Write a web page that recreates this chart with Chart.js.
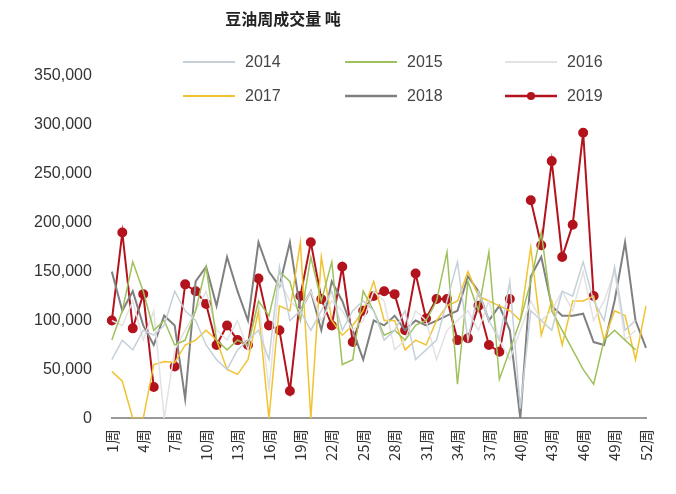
<!DOCTYPE html><html><head><meta charset="utf-8">
<script src="https://cdn.jsdelivr.net/npm/chart.js@4"></script>
<style>body{margin:0;background:#fff}#w{width:676px;height:494px}</style></head><body><div id="w"><canvas id="c"></canvas></div>
<script>
const weeks=Array.from({length:52},(_,i)=>(i+1)+'周');
const s2014=[60e3,80e3,70e3,90e3,85e3,95e3,130e3,110e3,100e3,75e3,60e3,50e3,70e3,80e3,90e3,60e3,155e3,100e3,110e3,90e3,110e3,130e3,90e3,110e3,120e3,110e3,80e3,90e3,110e3,60e3,70e3,80e3,120e3,160e3,80e3,130e3,100e3,80e3,140e3,10e3,110e3,100e3,90e3,130e3,125e3,160e3,120e3,100e3,155e3,90e3,100e3,null];
const s2015=[80e3,110e3,160e3,130e3,90e3,100e3,75e3,80e3,110e3,155e3,80e3,70e3,80e3,75e3,120e3,105e3,150e3,140e3,100e3,165e3,120e3,160e3,55e3,60e3,130e3,110e3,85e3,90e3,80e3,95e3,100e3,120e3,170e3,35e3,140e3,110e3,170e3,40e3,70e3,100e3,140e3,190e3,110e3,90e3,70e3,50e3,35e3,80e3,90e3,80e3,70e3,null];
const s2016=[100e3,95e3,120e3,80e3,110e3,0,70e3,90e3,110e3,130e3,90e3,80e3,100e3,70e3,120e3,30e3,140e3,120e3,110e3,130e3,100e3,120e3,110e3,90e3,100e3,130e3,120e3,70e3,80e3,110e3,100e3,60e3,90e3,100e3,110e3,90e3,120e3,80e3,60e3,90e3,120e3,100e3,110e3,130e3,110e3,150e3,100e3,120e3,150e3,80e3,90e3,null];
const s2017=[48e3,38e3,0,0,55e3,58e3,57e3,75e3,80e3,90e3,80e3,50e3,45e3,60e3,110e3,0,115e3,110e3,180e3,0,165e3,100e3,85e3,95e3,110e3,140e3,100e3,100e3,70e3,80e3,75e3,100e3,115e3,120e3,150e3,125e3,120e3,115e3,110e3,100e3,175e3,85e3,120e3,75e3,120e3,120e3,125e3,80e3,110e3,105e3,60e3,115e3];
const s2018=[150e3,110e3,130e3,95e3,75e3,105e3,95e3,20e3,140e3,155e3,115e3,165e3,130e3,100e3,180e3,150e3,135e3,180e3,110e3,130e3,90e3,140e3,120e3,90e3,60e3,100e3,95e3,105e3,90e3,100e3,95e3,100e3,105e3,110e3,145e3,130e3,100e3,115e3,90e3,0,145e3,165e3,115e3,105e3,105e3,107e3,78e3,75e3,120e3,180e3,100e3,72e3];
const s2019=[100e3,190e3,92e3,127e3,32e3,null,53e3,137e3,130e3,117e3,75e3,95e3,80e3,75e3,143e3,95e3,90e3,28e3,125e3,180e3,122e3,95e3,155e3,78e3,110e3,125e3,130e3,127e3,90e3,148e3,102e3,122e3,122e3,80e3,82e3,115e3,75e3,68e3,122e3,null,223e3,177e3,263e3,165e3,198e3,292e3,125e3,null,null,null,null,null];
const yTicks=[0,50000,100000,150000,200000,250000,300000,350000];
const mk=(l,d,c,w,pt)=>({label:l,data:d,borderColor:c,backgroundColor:c,borderWidth:w,pointRadius:pt?4:0,pointHoverRadius:0,tension:0,spanGaps:false});
const deco={id:'deco',afterDraw(ch){const x=ch.ctx;x.save();
 x.fillStyle='#222';x.font='bold 16px "Noto Sans CJK SC"';x.textAlign='center';x.textBaseline='middle';x.fillText('豆油周成交量 吨',283,19);
 const pos=[[183,62],[345,62],[505,62],[183,96],[345,96],[505,96]];
 x.font='16px "Liberation Sans"';x.textAlign='left';
 ch.data.datasets.forEach((d,i)=>{const [px,py]=pos[i];x.strokeStyle=d.borderColor;x.lineWidth=d.borderWidth+0.5;x.beginPath();x.moveTo(px,py);x.lineTo(px+52,py);x.stroke();
  if(d.pointRadius){x.fillStyle=d.borderColor;x.beginPath();x.arc(px+26,py,4,0,7);x.fill();}
  x.fillStyle='#444';x.fillText(d.label,px+62,py+1);});
 x.restore();}};
new Chart(document.getElementById('c'),{type:'line',data:{labels:weeks,datasets:[
mk('2014',s2014,'#c5d0d9',1.5),mk('2015',s2015,'#9fc15c',1.5),mk('2016',s2016,'#e2e2e2',1.5),
mk('2017',s2017,'#f0c330',1.5),mk('2018',s2018,'#808080',2),mk('2019',s2019,'#b3131c',2,true)]},
plugins:[deco],
options:{responsive:true,maintainAspectRatio:false,animation:false,
layout:{padding:{left:22,right:30,top:76,bottom:30}},
plugins:{legend:{display:false},tooltip:{enabled:false}},
scales:{x:{grid:{display:false},border:{color:'#999',width:2},ticks:{autoSkip:false,maxRotation:90,minRotation:90,font:{size:15,family:'Noto Sans CJK SC'},color:'#333',callback:(v,i)=>i%3===0?weeks[i]:''}},
y:{min:0,max:350000,grid:{display:false},border:{display:false},afterBuildTicks:a=>{a.ticks=yTicks.map(v=>({value:v}))},ticks:{padding:12,font:{size:16,family:'Liberation Sans'},color:'#333',callback:v=>v.toLocaleString('en-US')}}}}});
</script></body></html>
